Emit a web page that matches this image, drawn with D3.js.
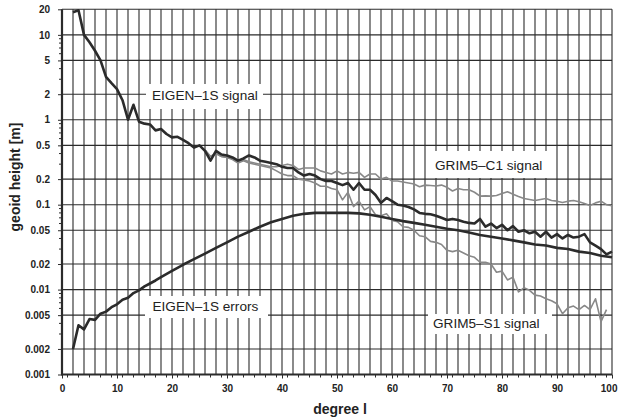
<!DOCTYPE html>
<meta charset="utf-8">
<script src="https://d3js.org/d3.v7.min.js"></script>
<style>
	body { margin: 0; background: #fff; font-family: 'Liberation Sans', Arial, sans-serif; }
</style>
<div id="my_dataviz"></div>
<script>
    // values, degree l = 2..100
    var eigenDeg = d3.range(2, 101);
    var eigenSignal = [18.5, 19.5, 10, 8.2, 6.5, 5.0, 3.2, 2.7, 2.3, 1.7,
        1.0, 1.5, 0.95, 0.9, 0.88, 0.75, 0.78, 0.68, 0.62, 0.63,
        0.58, 0.53, 0.47, 0.5, 0.43, 0.33, 0.43, 0.39, 0.38, 0.36,
        0.33, 0.35, 0.38, 0.36, 0.33, 0.32, 0.31, 0.30, 0.28, 0.27,
        0.27, 0.24, 0.22, 0.23, 0.22, 0.20, 0.19, 0.19, 0.18, 0.17,
        0.18, 0.15, 0.18, 0.15, 0.15, 0.13, 0.105, 0.12, 0.11, 0.10,
        0.098, 0.094, 0.088, 0.08, 0.078, 0.077, 0.074, 0.07, 0.066, 0.068,
        0.066, 0.063, 0.061, 0.06, 0.068, 0.055, 0.06, 0.053, 0.058, 0.05,
        0.056, 0.048, 0.05, 0.046, 0.048, 0.042, 0.048, 0.041, 0.045, 0.04,
        0.044, 0.041, 0.042, 0.045, 0.036, 0.033, 0.03, 0.026, 0.028];

    var errDeg = [2, 3, 4, 5, 6, 7, 8, 9, 10, 11, 12, 13, 14, 15, 16, 17, 18,
        20, 22, 24, 26, 28, 30, 32, 34, 36, 38, 40, 42, 44, 46, 48, 50,
        52, 54, 56, 58, 60, 62, 64, 66, 68, 70, 72, 74, 76, 78, 80, 82,
        84, 86, 88, 90, 92, 94, 96, 98, 100];
    var eigenErrors = [0.002, 0.0038, 0.0034, 0.0045, 0.0044, 0.0052, 0.0055, 0.0062, 0.0067,
        0.0076, 0.0080, 0.0091, 0.0098, 0.0109, 0.0118, 0.0128, 0.0140,
        0.0166, 0.0196, 0.0228, 0.0265, 0.031, 0.036, 0.042, 0.048, 0.055, 0.062, 0.068,
        0.074, 0.078, 0.080, 0.080, 0.080, 0.080, 0.079, 0.076, 0.072, 0.068, 0.064, 0.061,
        0.058, 0.055, 0.052, 0.050, 0.047, 0.044, 0.042, 0.040, 0.038, 0.036, 0.034,
        0.033, 0.031, 0.030, 0.028, 0.027, 0.025, 0.024];

    var grimDeg = d3.range(26, 101);
    var grimC1 = [0.44, 0.37, 0.4, 0.37, 0.36, 0.35, 0.32, 0.34, 0.32, 0.31,
        0.30, 0.29, 0.28, 0.28, 0.29, 0.30, 0.29, 0.26, 0.27, 0.27,
        0.27, 0.25, 0.24, 0.23, 0.25, 0.23, 0.24, 0.235, 0.24, 0.21,
        0.23, 0.23, 0.20, 0.21, 0.19, 0.19, 0.185, 0.18, 0.175, 0.163,
        0.17, 0.168, 0.166, 0.17, 0.16, 0.145, 0.155, 0.15, 0.15, 0.14,
        0.126, 0.127, 0.126, 0.128, 0.135, 0.142, 0.133, 0.125, 0.118, 0.115,
        0.112, 0.115, 0.118, 0.112, 0.11, 0.106, 0.11, 0.112, 0.108, 0.103,
        0.098, 0.105, 0.11, 0.1, 0.097];
    var grimS1 = [0.44, 0.37, 0.4, 0.37, 0.36, 0.34, 0.31, 0.33, 0.31, 0.30,
        0.29, 0.28, 0.27, 0.25, 0.23, 0.22, 0.22, 0.20, 0.195, 0.19,
        0.18, 0.165, 0.165, 0.155, 0.15, 0.114, 0.14, 0.095, 0.11, 0.087,
        0.095, 0.076, 0.074, 0.078, 0.065, 0.063, 0.055, 0.054, 0.05, 0.043,
        0.042, 0.037, 0.036, 0.034, 0.029, 0.028, 0.029, 0.027, 0.025, 0.024,
        0.021, 0.021, 0.02, 0.016, 0.0165, 0.013, 0.014, 0.0094, 0.0105, 0.0098,
        0.0086, 0.0084, 0.0078, 0.0074, 0.0068, 0.0052, 0.0061, 0.0064, 0.0058, 0.0065,
        0.0058, 0.0078, 0.0042, 0.0058];

    var yTicks = [20, 10, 5, 2, 1, 0.5, 0.2, 0.1, 0.05, 0.02, 0.01, 0.005, 0.002, 0.001];
    var xTicks = [0, 10, 20, 30, 40, 50, 60, 70, 80, 90, 100];

    var labels = [
        { text: "EIGEN\u20131S signal", x: 152, y: 100.5, box: [146, 84, 117, 25] },
        { text: "EIGEN\u20131S errors", x: 152.5, y: 311, box: [145, 296, 123, 22] },
        { text: "GRIM5\u2013C1 signal", x: 435, y: 170, box: [427, 151, 124, 27] },
        { text: "GRIM5\u2013S1 signal", x: 433, y: 328, box: [428, 314, 124, 20] }
    ];

    var margin = { top: 9.3, right: 6, bottom: 45.5, left: 62 },
        width = 612 - 62,
        height = 374.5 - 9.3;

    var svg = d3.select("#my_dataviz")
        .append("svg")
        .attr("width", 618)
        .attr("height", 420)
        .append("g")
        .attr("transform", "translate(" + margin.left + "," + margin.top + ")");

    var x = d3.scaleLinear().domain([0, 100]).range([0, width]);
    var y = d3.scaleLog().domain([0.001, 20]).range([height, 0]);

    var ink = "#2b2b2b";

    // grid
    svg.append("g")
        .selectAll("line")
        .data(d3.range(2, 101, 2))
        .enter()
        .append("line")
        .attr("x1", function (d) { return x(d); })
        .attr("x2", function (d) { return x(d); })
        .attr("y1", 0)
        .attr("y2", height)
        .style("stroke", ink)
        .style("stroke-width", 1.1);

    svg.append("g")
        .selectAll("line")
        .data(yTicks.slice(0, -1))
        .enter()
        .append("line")
        .attr("x1", 0)
        .attr("x2", width)
        .attr("y1", function (d) { return y(d); })
        .attr("y2", function (d) { return y(d); })
        .style("stroke", ink)
        .style("stroke-width", 1.1);

    // minor ticks on the log axis
    var minor = [];
    [0.001, 0.01, 0.1, 1, 10].forEach(function (p) {
        for (var k = 1; k < 10; k++) {
            var v = k * p;
            if (v <= 20 && yTicks.indexOf(+v.toPrecision(3)) < 0) minor.push(v);
        }
    });
    svg.append("g")
        .selectAll("line")
        .data(minor)
        .enter()
        .append("line")
        .attr("x1", -3)
        .attr("x2", 0)
        .attr("y1", function (d) { return y(d); })
        .attr("y2", function (d) { return y(d); })
        .style("stroke", ink)
        .style("stroke-width", 1);

    // y axis
    var yAxis = svg.append("g")
        .call(d3.axisLeft(y).tickValues(yTicks).tickFormat(function (d) { return d; }).tickSize(4).tickPadding(8));
    yAxis.select(".domain").remove();
    yAxis.selectAll("line").style("stroke", ink);
    yAxis.selectAll("text")
        .style("font-family", "'Liberation Sans', Arial, sans-serif")
        .style("font-size", "10px")
        .style("font-weight", "bold")
        .style("fill", "#222");

    // x axis
    var xAxis = svg.append("g")
        .attr("transform", "translate(0," + height + ")")
        .call(d3.axisBottom(x).tickValues(xTicks).tickSize(4).tickPadding(6));
    xAxis.select(".domain").remove();
    xAxis.selectAll("line").style("stroke", ink);
    xAxis.selectAll("text")
        .style("font-family", "'Liberation Sans', Arial, sans-serif")
        .style("font-size", "10px")
        .style("font-weight", "bold")
        .style("fill", "#222");
    // last label sits at the page edge: keep it inside
    xAxis.selectAll("text")
        .filter(function (d) { return d === 100; })
        .attr("text-anchor", "end")
        .attr("x", 5);

    svg.append("g")
        .selectAll("line")
        .data(d3.range(1, 100, 2))
        .enter()
        .append("line")
        .attr("x1", function (d) { return x(d); })
        .attr("x2", function (d) { return x(d); })
        .attr("y1", height)
        .attr("y2", height + 3)
        .style("stroke", ink)
        .style("stroke-width", 1);

    // axis lines
    svg.append("line")
        .attr("x1", 0).attr("x2", 0).attr("y1", 0).attr("y2", height)
        .style("stroke", ink).style("stroke-width", 2.2);
    svg.append("line")
        .attr("x1", -1).attr("x2", width).attr("y1", height).attr("y2", height)
        .style("stroke", ink).style("stroke-width", 2.2);

    // label boxes hide the grid
    var lab = svg.append("g")
        .selectAll("g")
        .data(labels)
        .enter()
        .append("g");
    lab.append("rect")
        .attr("x", function (d) { return d.box[0] - margin.left; })
        .attr("y", function (d) { return d.box[1] - margin.top; })
        .attr("width", function (d) { return d.box[2]; })
        .attr("height", function (d) { return d.box[3]; })
        .style("fill", "#fff");
    lab.append("text")
        .attr("x", function (d) { return d.x - margin.left; })
        .attr("y", function (d) { return d.y - margin.top; })
        .style("font-family", "'Liberation Sans', Arial, sans-serif")
        .style("font-size", "13.6px")
        .style("fill", "#222")
        .text(function (d) { return d.text; });

    // curves
    var line = d3.line()
        .x(function (d) { return x(d[0]); })
        .y(function (d) { return y(d[1]); });

    function series(deg, vals, color, w) {
        svg.append("path")
            .datum(deg.map(function (d, i) { return [d, vals[i]]; }))
            .attr("d", line)
            .style("fill", "none")
            .style("stroke", color)
            .style("stroke-width", w)
            .style("stroke-linejoin", "round");
    }
    series(grimDeg, grimS1, "#888", 1.6);
    series(grimDeg, grimC1, "#888", 1.6);
    series(errDeg, eigenErrors, ink, 2.6);
    series(eigenDeg, eigenSignal, ink, 2.6);

    // axis titles
    svg.append("text")
        .attr("x", 340 - margin.left)
        .attr("y", 414 - margin.top)
        .style("text-anchor", "middle")
        .style("font-size", "14px")
        .style("font-weight", "bold")
        .style("fill", "#222")
        .text("degree l");

    svg.append("text")
        .attr("transform", "rotate(-90)")
        .attr("x", -(177 - margin.top))
        .attr("y", 19.5 - margin.left)
        .style("text-anchor", "middle")
        .style("font-size", "14px")
        .style("font-weight", "bold")
        .style("fill", "#222")
        .text("geoid height [m]");
</script>
